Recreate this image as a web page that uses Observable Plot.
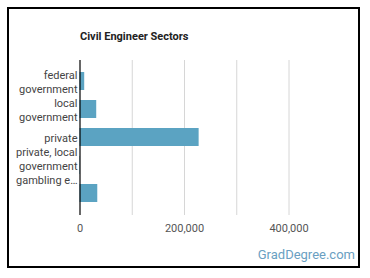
<!DOCTYPE html>
<html>
<head>
<meta charset="utf-8">
<script src="https://cdn.jsdelivr.net/npm/d3@7"></script>
<script src="https://cdn.jsdelivr.net/npm/@observablehq/plot@0.6"></script>
<style>
  html, body { margin: 0; padding: 0; background: #fff; }
  #wrap { position: relative; width: 370px; height: 278px; overflow: hidden; font-family: Roboto, sans-serif; }
  #frame { position: absolute; left: 7px; top: 7px; width: 349px; height: 257px; border: 2px solid #000; }
  #title { position: absolute; left: 80px; top: 30px; font-size: 11px; font-weight: bold; color: #222; }
  #chart { position: absolute; left: 0; top: 0; }
  #caption { position: absolute; right: 15px; top: 247px; font-size: 13px; color: #6a9fc2; }
</style>
</head>
<body>
<div id="wrap">
  <div id="frame"></div>
  <div id="title">Civil Engineer Sectors</div>
  <div id="chart"></div>
  <div id="caption">GradDegree.com</div>
</div>
<script>
// Sector labels (multi-line) and employment counts
const sectorLabels = [
  "federal\ngovernment",
  "local\ngovernment",
  "private",
  "private, local\ngovernment\ngambling e…",
  ""
];
const employment = [9000, 32000, 228000, 1000, 34000];
const xTicks = [0, 200000, 400000];
const gridValues = [100000, 200000, 300000, 400000];

const rows = sectorLabels.map((label, i) => ({i, label, value: employment[i]}));

const chart = Plot.plot({
  width: 370,
  height: 240,
  marginLeft: 80,
  marginRight: 0,
  marginTop: 60,
  marginBottom: 25,
  style: {fontFamily: "Roboto, sans-serif", fontSize: "11px", background: "transparent"},
  x: {domain: [0, 400000], range: [79.5, 288.5]},
  y: {domain: d3.range(sectorLabels.length), padding: 0.355},
  marks: [
    Plot.ruleX(gridValues, {stroke: "#d6d6d6", strokeWidth: 1, strokeOpacity: 1}),
    Plot.barX(rows, {x: "value", y: "i", fill: "#5ba3c2"}),
    Plot.ruleX([0], {stroke: "#000", strokeWidth: 1.2}),
    Plot.axisX({ticks: xTicks, tickSize: 0, tickPadding: 9, tickFormat: d3.format(","), fill: "#555", label: null}),
    Plot.axisY({tickSize: 0, tickPadding: 3, tickFormat: i => sectorLabels[i], fill: "#444", lineHeight: 1.3, label: null})
  ]
});
document.getElementById("chart").appendChild(chart);
</script>
</body>
</html>
